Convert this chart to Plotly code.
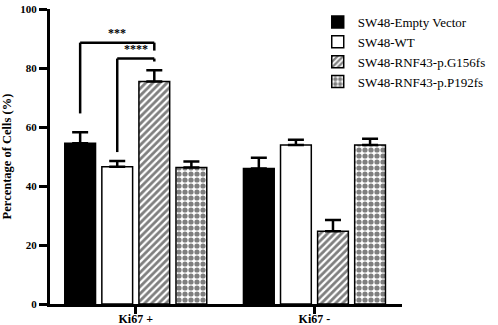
import plotly.graph_objects as go

categories = ["Ki67 +", "Ki67 -"]
series_names = ["SW48-Empty Vector", "SW48-WT", "SW48-RNF43-p.G156fs", "SW48-RNF43-p.P192fs"]
empty_vector = [54.5, 45.9]
wt = [46.5, 53.9]
g156fs = [75.4, 24.7]
p192fs = [46.3, 53.9]
empty_vector_err = [3.7, 3.7]
wt_err = [2.0, 1.8]
g156fs_err = [3.8, 3.8]
p192fs_err = [2.0, 2.1]
y_ticks = [0, 20, 40, 60, 80, 100]

# significance brackets: (category index, left series, right series, left start, top, right end, label)
brackets = [
    (0, 0, 2, 64.6, 88.6, 85.9, "***"),
    (0, 1, 2, 51.5, 83.2, 82.2, "****"),
]

values = [empty_vector, wt, g156fs, p192fs]
errors = [empty_vector_err, wt_err, g156fs_err, p192fs_err]
styles = [
    dict(color="black"),
    dict(color="white"),
    dict(color="white", pattern=dict(shape="/", fgcolor="black", bgcolor="white", size=5, solidity=0.55)),
    dict(color="white", pattern=dict(shape=".", fgcolor="black", bgcolor="white", size=6, solidity=0.6)),
]

BARGAP = 0.17
BARGROUPGAP = 0.17
FONT = "Times New Roman, Liberation Serif, serif"

fig = go.Figure()
for name, vals, errs, st in zip(series_names, values, errors, styles):
    marker = dict(color=st["color"], line=dict(color="black", width=1.5))
    if "pattern" in st:
        marker["pattern"] = st["pattern"]
    fig.add_trace(go.Bar(
        name=name, x=categories, y=vals, marker=marker,
        error_y=dict(type="data", symmetric=False, array=errs, arrayminus=[0] * len(errs),
                     color="black", thickness=2.5, width=8),
    ))

slot = (1 - BARGAP) / len(series_names)
def bar_center(cat, s):
    return cat + (s - (len(series_names) - 1) / 2) * slot

for cat, s0, s1, ys, ytop, ye, label in brackets:
    x0 = bar_center(cat, s0)
    x1 = bar_center(cat, s1)
    ln = dict(color="black", width=2.5)
    fig.add_shape(type="line", xref="x", yref="y", x0=x0, x1=x0, y0=ys, y1=ytop, line=ln)
    fig.add_shape(type="line", xref="x", yref="y", x0=x0, x1=x1, y0=ytop, y1=ytop, line=ln)
    fig.add_shape(type="line", xref="x", yref="y", x0=x1, x1=x1, y0=ytop, y1=ye, line=ln)
    fig.add_annotation(x=(x0 + x1) / 2, y=ytop, xref="x", yref="y", text=label, showarrow=False,
                       yanchor="bottom", yshift=1, font=dict(family=FONT, size=12, color="black", weight="bold"))

fig.update_layout(
    width=498, height=325,
    margin=dict(l=50, r=93, t=7, b=21),
    paper_bgcolor="white", plot_bgcolor="white",
    barmode="group", bargap=BARGAP, bargroupgap=BARGROUPGAP,
    font=dict(family=FONT, color="black"),
    showlegend=True,
    legend=dict(x=0.7606, y=1.007, xanchor="left", yanchor="top",
                bgcolor="rgba(0,0,0,0)",
                font=dict(family=FONT, size=13, color="black"), tracegroupgap=0),
)
fig.update_xaxes(
    range=[-0.48, 1.49], showline=True, linecolor="black", linewidth=3,
    ticks="outside", ticklen=7, tickwidth=2.5, tickcolor="black", ticklabelstandoff=-5,
    tickfont=dict(family=FONT, size=12, color="black", weight="bold"),
    showgrid=False, zeroline=False, automargin=False,
)
fig.update_yaxes(
    range=[0, 100], tickvals=y_ticks, showline=True, linecolor="black", linewidth=3,
    ticks="outside", ticklen=8, tickwidth=2.5, tickcolor="black",
    tickfont=dict(family=FONT, size=11, color="black", weight="bold"),
    title=dict(text="Percentage of Cells (%)", standoff=8,
               font=dict(family=FONT, size=12.5, color="black", weight="bold")),
    showgrid=False, zeroline=False, automargin=False,
)

fig.write_html("out.html", config={"displayModeBar": False},
               post_script="document.body.style.margin='0';")
